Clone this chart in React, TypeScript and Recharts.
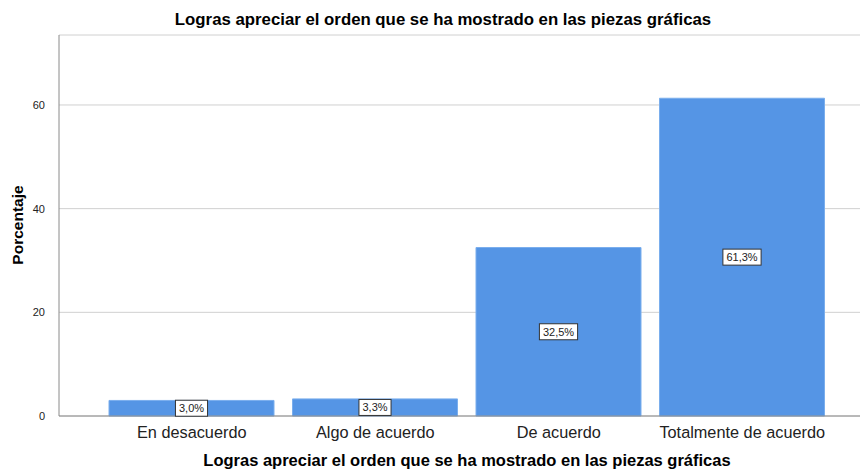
import React from "react";
import {
  BarChart,
  Bar,
  XAxis,
  YAxis,
  CartesianGrid,
  LabelList,
} from "recharts";

const categories = [
  "En desacuerdo",
  "Algo de acuerdo",
  "De acuerdo",
  "Totalmente de acuerdo",
];
const percentages = [3.0, 3.3, 32.5, 61.3];
const yTicks = [0, 20, 40, 60];

const chartTitle = "Logras apreciar el orden que se ha mostrado en las piezas gráficas";
const xTitle = "Logras apreciar el orden que se ha mostrado en las piezas gráficas";
const yTitle = "Porcentaje";

const data = categories.map((name, i) => ({ name, pct: percentages[i] }));

const FONT = "'Liberation Sans', Arial, sans-serif";

function fmt(v: number) {
  return v.toFixed(1).replace(".", ",") + "%";
}

// rough width of the label text, Arial 11px
function textW(s: string) {
  let w = 0;
  for (const c of s) {
    if (c === ",") w += 3.1;
    else if (c === "%") w += 9.8;
    else w += 6.1;
  }
  return w;
}

const BarValueLabel = (props: any) => {
  const { x, y, width, height, value } = props;
  const s = fmt(value);
  const w = textW(s) + 7;
  const h = 16;
  const cx = x + width / 2;
  const cy = y + height / 2;
  return (
    <g>
      <rect
        x={cx - w / 2}
        y={cy - h / 2}
        width={w}
        height={h}
        fill="#ffffff"
        stroke="#333333"
        strokeWidth={1}
      />
      <text
        x={cx}
        y={cy + 4}
        textAnchor="middle"
        fontSize={11}
        fontFamily={FONT}
        fill="#222222"
      >
        {s}
      </text>
    </g>
  );
};

const XTitle = () => (
  <text
    x={467}
    y={466}
    textAnchor="middle"
    fontSize={16.5}
    fontWeight="bold"
    fontFamily={FONT}
    fill="#000000"
  >
    {xTitle}
  </text>
);

const YTitle = () => (
  <text
    x={23}
    y={225}
    transform="rotate(-90 23 225)"
    textAnchor="middle"
    fontSize={15.5}
    fontWeight="bold"
    fontFamily={FONT}
    fill="#000000"
  >
    {yTitle}
  </text>
);

export default function App() {
  return (
    <div
      style={{
        position: "absolute",
        left: 0,
        top: 0,
        width: 860,
        height: 470,
        background: "#ffffff",
        fontFamily: FONT,
      }}
    >
      <div
        style={{
          position: "absolute",
          left: 0,
          width: 886,
          top: 10,
          textAlign: "center",
          fontSize: 16.8,
          fontWeight: "bold",
          color: "#000",
          lineHeight: "20px",
        }}
      >
        {chartTitle}
      </div>
      <BarChart
        width={860}
        height={470}
        data={data}
        margin={{ top: 35, right: 0, bottom: 0, left: 0 }}
        barSize={165}
      >
        <CartesianGrid
          horizontal={true}
          vertical={false}
          stroke="#d0d0d0"
          strokeWidth={1}
        />
        <XAxis
          dataKey="name"
          tickLine={false}
          axisLine={{ stroke: "#8a8a8a" }}
          padding={{ left: 41, right: 26 }}
          tick={{ fontSize: 16.3, fill: "#222222", fontFamily: FONT }}
          tickMargin={4}
          interval={0}
          height={54}
          label={<XTitle />}
        />
        <YAxis
          width={59}
          domain={[0, 73.5]}
          ticks={yTicks}
          tickLine={false}
          axisLine={{ stroke: "#8a8a8a" }}
          tick={{ fontSize: 11, fill: "#222222", fontFamily: FONT }}
          tickMargin={8}
          label={<YTitle />}
        />
        <Bar
          dataKey="pct"
          fill="#5595e5"
          stroke="#7aaeed"
          strokeWidth={1}
          isAnimationActive={false}
        >
          <LabelList dataKey="pct" content={<BarValueLabel />} />
        </Bar>
      </BarChart>
    </div>
  );
}
